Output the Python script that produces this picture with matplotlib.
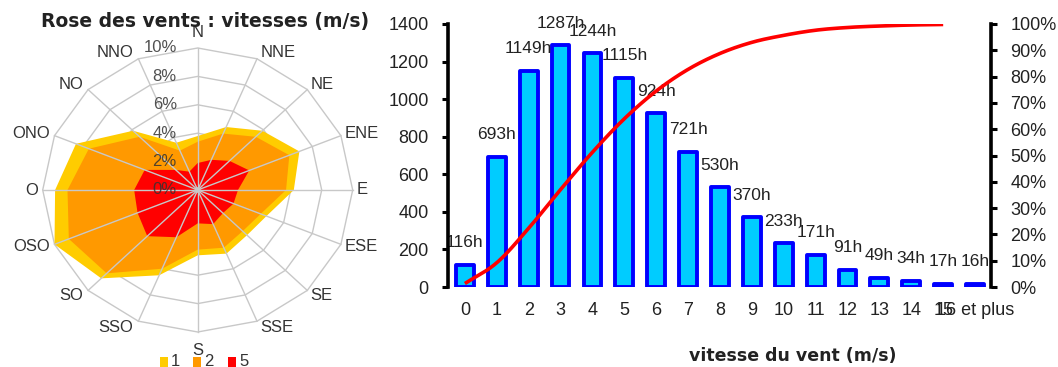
import numpy as np
import matplotlib
matplotlib.use("Agg")
import matplotlib.pyplot as plt
from matplotlib.patches import Polygon, Rectangle, Ellipse

plt.rcParams['font.family'] = ['Liberation Sans', 'DejaVu Sans']

# ---- wind rose data (% of time per direction, cumulative by speed class) ----
directions = ['N', 'NNE', 'NE', 'ENE', 'E', 'ESE', 'SE', 'SSE',
              'S', 'SSO', 'SO', 'OSO', 'O', 'ONO', 'NO', 'NNO']
rose_1 = [3.8, 4.8, 5.9, 7.1, 6.2, 4.8, 4.5, 4.85, 4.6, 6.5, 8.8, 10.0, 9.2, 8.5, 5.9, 3.6]
rose_2 = [3.4, 4.3, 5.3, 6.4, 5.7, 4.4, 4.1, 4.4, 4.2, 6.0, 8.3, 9.0, 8.4, 7.6, 5.3, 3.0]
rose_5 = [1.9, 2.3, 2.9, 3.6, 2.6, 2.5, 2.3, 2.6, 2.35, 3.6, 4.6, 4.2, 4.1, 3.7, 2.0, 1.4]
rose_series = [('1', rose_1, '#FFCC00'), ('2', rose_2, '#FF9900'), ('5', rose_5, '#FF0000')]
rose_rings = [0, 2, 4, 6, 8, 10]

# ---- speed distribution (hours per year) ----
speed_labels = ['0', '1', '2', '3', '4', '5', '6', '7', '8', '9', '10',
                '11', '12', '13', '14', '15', '16 et plus']
hours = [116, 693, 1149, 1287, 1244, 1115, 924, 721, 530, 370, 233,
         171, 91, 49, 34, 17, 16]

W, H = 1058, 367
fig = plt.figure(figsize=(W / 100, H / 100), dpi=100)
txt_col = '#222222'

# ================= wind rose =================
cx, cy = 197.7, 190.0          # centre in pixels (from top-left)
sx, sy = 15.5, 14.2            # pixels per percent
lim = 11.0
axr = fig.add_axes([(cx - lim * sx) / W, (H - cy - lim * sy) / H,
                    2 * lim * sx / W, 2 * lim * sy / H])
axr.set_xlim(-lim, lim)
axr.set_ylim(-lim, lim)
axr.axis('off')

ang = np.deg2rad(90 - 22.5 * np.arange(len(directions)))
ca, sa = np.cos(ang), np.sin(ang)

grid_col = '#C8C8C8'
for r in rose_rings[1:]:
    axr.add_patch(Polygon(np.column_stack([r * ca, r * sa]), closed=True,
                          fill=False, ec=grid_col, lw=1.0, zorder=1))

for name, vals, col in rose_series:
    v = np.asarray(vals)
    axr.add_patch(Polygon(np.column_stack([v * ca, v * sa]), closed=True,
                          fc=col, ec='none', zorder=2))

rmax = rose_rings[-1]
for c, s in zip(ca, sa):
    axr.plot([0, rmax * c], [0, rmax * s], color=grid_col, lw=1.0, zorder=3)
axr.add_patch(Ellipse((0, 0), 0.4, 0.4, fc='#C8C8C8', ec='none', zorder=4))

for r in rose_rings:
    axr.text(-1.35, r, f'{r}%', ha='right', va='center', fontsize=12,
             color='#333333', alpha=0.85, zorder=5)

for d, c, s in zip(directions, ca, sa):
    if abs(c) < 0.1:
        dy = 11.5 if s > 0 else -13
        axr.annotate(d, (rmax * c, rmax * s), xytext=(0, dy), textcoords='offset points',
                     ha='center', va='center', fontsize=12, color='#333333')
    else:
        dx = 2.5 if c > 0 else -3.5
        axr.annotate(d, (rmax * c, rmax * s), xytext=(dx, 5 * s), textcoords='offset points',
                     ha='left' if c > 0 else 'right', va='center', fontsize=12,
                     color='#333333')

fig.text(205 / W, 1 - 21 / H, 'Rose des vents : vitesses (m/s)', ha='center',
         va='center', fontsize=13.5, fontweight='bold', color=txt_col,
         family=['DejaVu Sans'])

# legend under the rose
leg_x = [160, 193, 228]
for (name, vals, col), x0 in zip(rose_series, leg_x):
    fig.patches.append(Rectangle((x0 / W, 0), 7.5 / W, 10 / H, transform=fig.transFigure,
                                 fc=col, ec='none'))
    fig.text((x0 + 11) / W, 5 / H, name, ha='left', va='center', fontsize=12,
             color='#333333')

# ================= speed histogram =================
axb = fig.add_axes([448 / W, 80 / H, 543 / W, 263 / H])
x = np.arange(len(hours))
axb.bar(x, hours, width=0.56, color='#00CCFF', edgecolor='#0000FF', linewidth=2.8,
        joinstyle='round', zorder=2)
for xi, v in zip(x, hours):
    axb.annotate(f'{v}h', (xi, v), xytext=(0, 16), textcoords='offset points',
                 ha='center', va='center', fontsize=12.5, color=txt_col, zorder=3)

axb.set_xlim(-0.53, 16.5)
axb.set_ylim(0, 1400)
axb.set_yticks(range(0, 1401, 200))
axb.set_xticks(x)
axb.set_xticklabels(speed_labels)
axb.tick_params(axis='x', length=0, pad=11, labelsize=13, labelcolor=txt_col)
axb.tick_params(axis='y', length=4, width=2.2, direction='out', pad=10,
                labelsize=13, labelcolor=txt_col)
for side in ['top', 'bottom', 'right']:
    axb.spines[side].set_visible(False)
axb.spines['left'].set_linewidth(2.6)
axb.spines['left'].set_zorder(6)
axb.patch.set_visible(False)

ax2 = axb.twinx()
cum = np.cumsum(hours) / np.sum(hours)
xs, ys = x[:16].astype(float), cum[:16]
# Catmull-Rom smoothing through the cumulative points
px = np.concatenate([[2 * xs[0] - xs[1]], xs, [2 * xs[-1] - xs[-2]]])
py = np.concatenate([[2 * ys[0] - ys[1]], ys, [2 * ys[-1] - ys[-2]]])
t = np.linspace(0, 1, 25)[:-1]
cx_pts, cy_pts = [], []
for i in range(1, len(px) - 2):
    for P, out in ((px, cx_pts), (py, cy_pts)):
        p0, p1, p2, p3 = P[i - 1], P[i], P[i + 1], P[i + 2]
        out.extend(0.5 * ((2 * p1) + (-p0 + p2) * t + (2 * p0 - 5 * p1 + 4 * p2 - p3) * t ** 2
                          + (-p0 + 3 * p1 - 3 * p2 + p3) * t ** 3))
cx_pts.append(xs[-1])
cy_pts.append(ys[-1])
ax2.plot(cx_pts, cy_pts, color='#FF0000', lw=2.6, solid_capstyle='butt', zorder=4)
ax2.set_ylim(0, 1)
ax2.set_yticks(np.linspace(0, 1, 11))
ax2.set_yticklabels([f'{p}%' for p in range(0, 101, 10)])
ax2.tick_params(axis='y', length=4, width=2.2, direction='out', pad=10,
                labelsize=13, labelcolor=txt_col)
for side in ['top', 'bottom', 'left']:
    ax2.spines[side].set_visible(False)
ax2.spines['right'].set_linewidth(2.6)
ax2.set_xlim(axb.get_xlim())

fig.text(793 / W, 1 - 356 / H, 'vitesse du vent (m/s)', ha='center', va='center',
         fontsize=12.5, fontweight='bold', color=txt_col, family=['DejaVu Sans'])

fig.savefig('out.png', dpi=100)
